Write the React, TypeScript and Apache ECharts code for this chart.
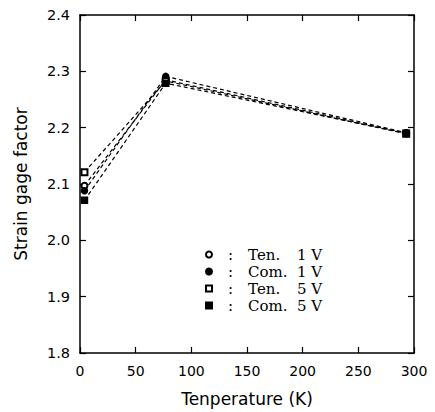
import React, { useEffect, useRef } from "react";
import * as echarts from "echarts";

const temperatures = [4, 77, 293];
const ten1V = [2.097, 2.285, 2.19];
const com1V = [2.088, 2.291, 2.191];
const ten5V = [2.121, 2.283, 2.189];
const com5V = [2.071, 2.279, 2.19];
const seriesLabels = ["Ten.", "Com.", "Ten.", "Com."];
const seriesVolts = ["1 V", "1 V", "5 V", "5 V"];
const seriesNames = ["Ten. 1 V", "Com. 1 V", "Ten. 5 V", "Com. 5 V"];
const seriesSymbols = ["emptyCircle", "circle", "emptyRect", "rect"];
const seriesValues = [ten1V, com1V, ten5V, com5V];

export default function App() {
  const ref = useRef<HTMLDivElement>(null);
  useEffect(() => {
    if (!ref.current) return;
    const chart = echarts.init(ref.current, null, { renderer: "svg" });
    const sans = "DejaVu Sans";
    const serif = "DejaVu Serif";
    const axisCommon = {
      axisLine: { show: true, onZero: false, lineStyle: { color: "#000", width: 1.5 } },
      axisTick: { show: true, inside: true, length: 6, lineStyle: { color: "#000", width: 1.2 } },
      splitLine: { show: false },
    };
    chart.setOption({
      animation: false,
      backgroundColor: "#fff",
      grid: { left: 80, right: 21, top: 15, bottom: 57, containLabel: false },
      xAxis: [
        {
          type: "value", min: 0, max: 300, interval: 50, position: "bottom",
          ...axisCommon,
          axisLabel: { color: "#000", fontFamily: sans, fontSize: 14, margin: 11 },
          name: "Tenperature (K)", nameLocation: "middle", nameGap: 37,
          nameTextStyle: { color: "#000", fontFamily: sans, fontSize: 17 },
        },
        {
          type: "value", min: 0, max: 300, interval: 50, position: "top",
          ...axisCommon, axisLabel: { show: false },
        },
      ],
      yAxis: [
        {
          type: "value", min: 1.8, max: 2.4, interval: 0.1, position: "left",
          ...axisCommon,
          axisLabel: { color: "#000", fontFamily: sans, fontSize: 14.5, margin: 10, formatter: (v: number) => v.toFixed(1) },
          name: "Strain gage factor", nameLocation: "middle", nameGap: 51,
          nameTextStyle: { color: "#000", fontFamily: sans, fontSize: 17 },
        },
        {
          type: "value", min: 1.8, max: 2.4, interval: 0.1, position: "right",
          ...axisCommon, axisLabel: { show: false },
        },
      ],
      legend: {
        orient: "vertical",
        left: 200,
        top: 242,
        itemWidth: 6,
        itemHeight: 6,
        itemGap: 2,
        data: seriesNames.map((n, i) => ({ name: n, icon: seriesSymbols[i] })),
        formatter: (n: string) => {
          const i = seriesNames.indexOf(n);
          return "{p|:}{a|" + seriesLabels[i] + "}{b|" + seriesVolts[i] + "}";
        },
        textStyle: {
          color: "#000", fontFamily: serif, fontSize: 15,
          rich: {
            p: { fontFamily: serif, fontSize: 15, color: "#000", padding: [0, 15, 0, 11], lineHeight: 16 },
            a: { fontFamily: serif, fontSize: 15, color: "#000", width: 49, lineHeight: 16 },
            b: { fontFamily: serif, fontSize: 15, color: "#000", lineHeight: 16 },
          },
        },
      },
      series: seriesNames.map((n, i) => ({
        name: n,
        type: "line",
        data: temperatures.map((t, j) => [t, seriesValues[i][j]]),
        symbol: seriesSymbols[i],
        symbolSize: 6,
        itemStyle: { color: "#000", borderColor: "#000", borderWidth: 1.5 },
        lineStyle: { color: "#000", width: 1.2, type: [4, 3] },
      })),
    });
    return () => chart.dispose();
  }, []);
  return <div ref={ref} style={{ width: 435, height: 412, marginLeft: -8, marginTop: -8 }} />;
}
